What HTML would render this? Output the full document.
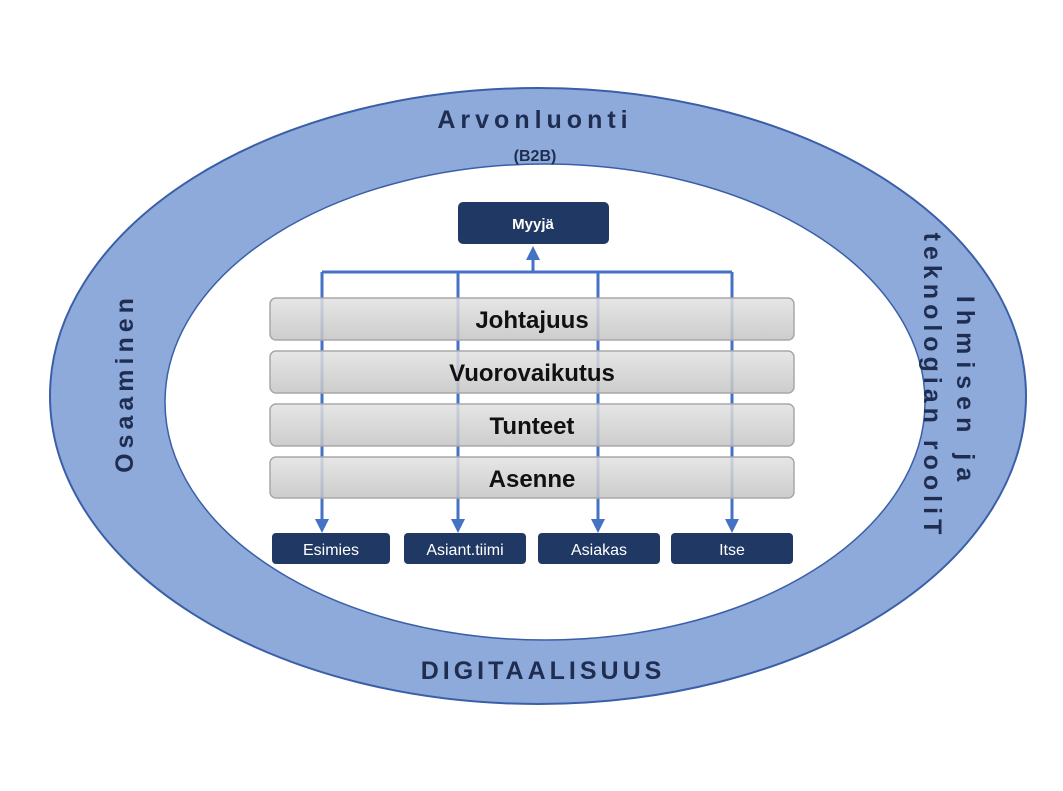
<!DOCTYPE html>
<html><head><meta charset="utf-8"><style>
body{margin:0;width:1063px;height:786px;background:#fff;overflow:hidden;font-family:"Liberation Sans",sans-serif}
</style></head><body>
<svg width="1063" height="786" xmlns="http://www.w3.org/2000/svg" font-family="Liberation Sans, sans-serif">
<defs>
<linearGradient id="g" x1="0" y1="0" x2="0" y2="1"><stop offset="0" stop-color="#e2e2e2"/><stop offset="1" stop-color="#c4c4c4"/></linearGradient>
<marker id="a" markerWidth="14" markerHeight="14" refX="7" refY="7" orient="auto" markerUnits="userSpaceOnUse"><path d="M0,0 L14,7 L0,14z" fill="#4472c4"/></marker>
</defs>
<ellipse cx="538" cy="396" rx="488" ry="308" fill="#8eaadb" stroke="#3a5fa8" stroke-width="2"/>
<ellipse cx="545" cy="402" rx="380" ry="238" fill="#fff" stroke="#3a5fa8" stroke-width="1.5"/>
<text x="535" y="128" text-anchor="middle" font-size="25" font-weight="bold" letter-spacing="5" fill="#1f2d50">Arvonluonti</text>
<text x="535" y="161" text-anchor="middle" font-size="16" font-weight="bold" fill="#1f2d50">(B2B)</text>
<text x="543" y="679" text-anchor="middle" font-size="25" font-weight="bold" letter-spacing="4" fill="#1f2d50">DIGITAALISUUS</text>
<text transform="translate(133,383) rotate(-90)" text-anchor="middle" font-size="25" font-weight="bold" letter-spacing="5" fill="#1f2d50">Osaaminen</text>
<text transform="translate(957,392) rotate(90)" text-anchor="middle" font-size="25" font-weight="bold" letter-spacing="7" fill="#1f2d50">Ihmisen ja</text>
<text transform="translate(924,386) rotate(90)" text-anchor="middle" font-size="25" font-weight="bold" letter-spacing="5" fill="#1f2d50">teknologian rooliT</text>
<rect x="458" y="202" width="151" height="42" rx="5" fill="#1f3864"/>
<text x="533" y="229" text-anchor="middle" font-size="15" font-weight="bold" fill="#fff">Myyjä</text>
<g stroke="#4472c4" stroke-width="3" fill="none">
<polyline points="322,272 732,272"/>
<line x1="322" y1="272" x2="322" y2="526" marker-end="url(#a)"/>
<line x1="458" y1="272" x2="458" y2="526" marker-end="url(#a)"/>
<line x1="598" y1="272" x2="598" y2="526" marker-end="url(#a)"/>
<line x1="732" y1="272" x2="732" y2="526" marker-end="url(#a)"/>
<line x1="533" y1="272" x2="533" y2="253" marker-end="url(#a)"/>
</g>
<g fill="url(#g)" stroke="#a8a8a8" stroke-width="1.5" fill-opacity="0.85">
<rect x="270" y="298" width="524" height="42" rx="6"/>
<rect x="270" y="351" width="524" height="42" rx="6"/>
<rect x="270" y="404" width="524" height="42" rx="6"/>
<rect x="270" y="457" width="524" height="41" rx="6"/>
</g>
<g font-size="24" font-weight="bold" fill="#111" text-anchor="middle">
<text x="532" y="328">Johtajuus</text>
<text x="532" y="381">Vuorovaikutus</text>
<text x="532" y="434">Tunteet</text>
<text x="532" y="487">Asenne</text>
</g>
<g fill="#1f3864">
<rect x="272" y="533" width="118" height="31" rx="4"/>
<rect x="404" y="533" width="122" height="31" rx="4"/>
<rect x="538" y="533" width="122" height="31" rx="4"/>
<rect x="671" y="533" width="122" height="31" rx="4"/>
</g>
<g font-size="16" fill="#fff" text-anchor="middle">
<text x="331" y="555">Esimies</text>
<text x="465" y="555">Asiant.tiimi</text>
<text x="599" y="555">Asiakas</text>
<text x="732" y="555">Itse</text>
</g>
</svg>
</body></html>
